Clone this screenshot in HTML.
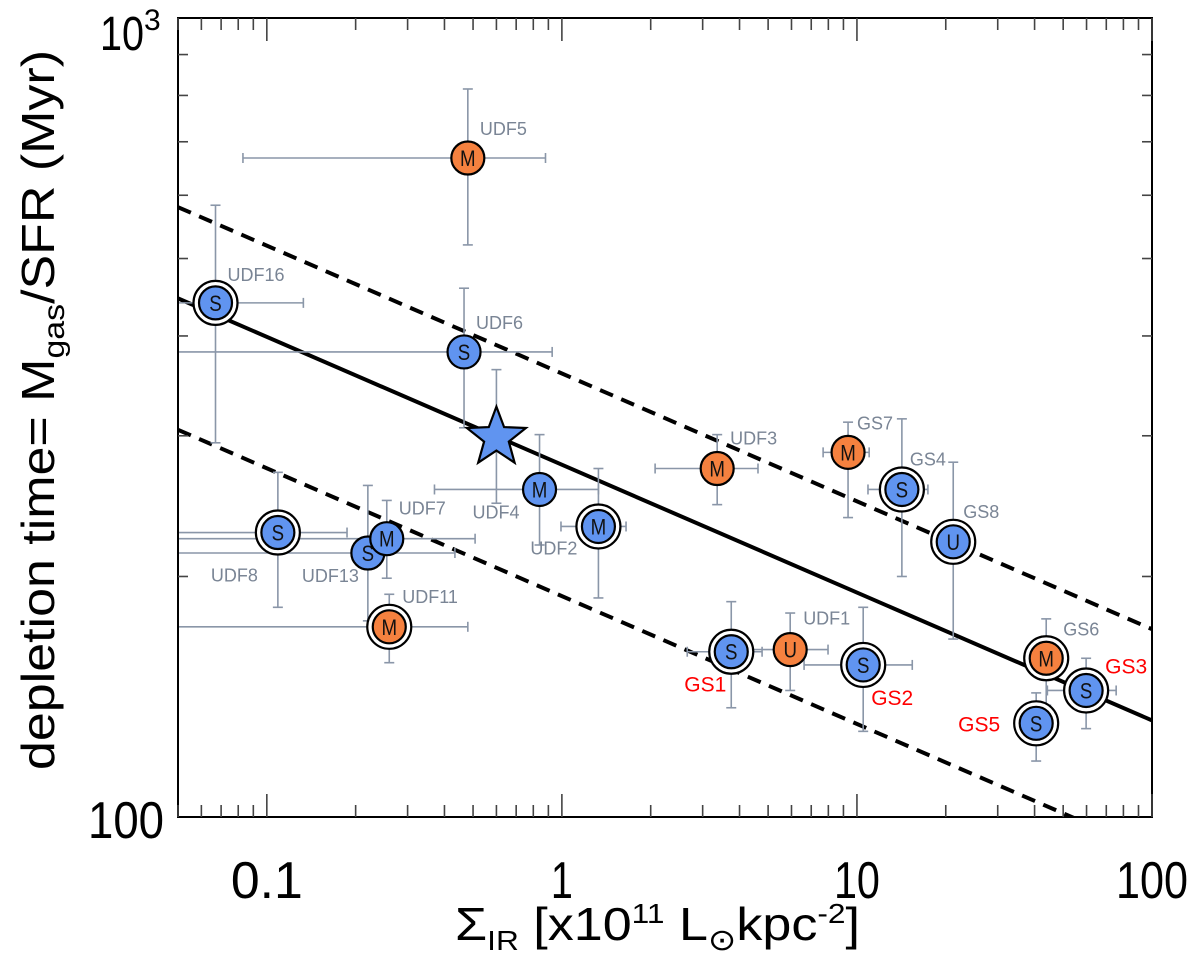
<!DOCTYPE html>
<html><head><meta charset="utf-8"><style>
html,body{margin:0;padding:0;background:#fff;}
svg{display:block;font-family:"Liberation Sans",Arial,sans-serif;}
</style></head><body>
<svg id="chart" width="1200" height="955" viewBox="0 0 1200 955" xmlns="http://www.w3.org/2000/svg">
<g id="grid"></g>
<g id="fits"></g>
<g id="errs"></g>
<g id="marks"></g>
<g id="labels"></g>
<g id="axes"></g>
</svg>
<script>
// ---- data ----
const names = ["UDF5","UDF16","UDF6","UDF4","UDF2","UDF3","UDF8","UDF13","UDF7","UDF11","GS7","GS4","GS8","GS1","UDF1","GS2","GS6","GS3","GS5"];
const sigmaIR = [0.48,0.067,0.466,0.84,1.33,3.36,0.109,0.220,0.255,0.26,9.33,14.2,21.2,3.75,5.94,10.5,43.8,59.8,40.5];
const sigmaLo = [0.083,0.03,0.03,0.37,0.993,2.07,0.03,0.03,0.03,0.03,7.68,10.9,21.2,2.66,3.93,6.62,43.8,44.2,40.5];
const sigmaHi = [0.88,0.133,0.927,1.33,1.65,4.62,0.187,0.434,0.508,0.48,11.0,17.4,21.2,4.77,7.98,15.4,43.8,75.6,40.5];
const tdep = [668,440,382,257,231,273,227,214,223,173,286,257,221,161,162,155,158,144,131];
const tdepHi = [815,583,459,301,273,301,270,260,249,190,312,315,278,186,180,183,177,158,143];
const tdepLo = [520,294,307,219,188,246,183,176,199,156,237,200,167,137,144,128,138,129,117.5];
const morph = ["M","S","S","M","M","M","S","S","M","M","M","S","U","S","U","S","M","S","S"];
const group = ["o","b","b","b","b","o","b","b","b","o","o","b","b","b","o","b","o","b","b"];
const ringed = [0,1,0,0,1,0,1,0,0,1,0,1,1,1,0,1,1,1,1];
const redLabel = [0,0,0,0,0,0,0,0,0,0,0,0,0,1,0,1,0,1,1];
const starSigma = [0.60];
const starT = [301];
const starTHi = [363];
const starTLo = [247];
// fits: t = A * sigma^b
const fitSlope = [-0.16];
const fitNorm = [276, 359, 189];
const xTicks = [0.1,1,10,100];
const xTickLabels = ["0.1","1","10","100"];

// ---- layout ----
const L=178,R=1152,T=18,B=817;
const xmin=0.05,xmax=100,ymin=100,ymax=1000;
const xs=v=>L+(Math.log10(v)-Math.log10(xmin))/(Math.log10(xmax)-Math.log10(xmin))*(R-L);
const ys=v=>B-(Math.log10(v)-Math.log10(ymin))/(Math.log10(ymax)-Math.log10(ymin))*(B-T);
const NS="http://www.w3.org/2000/svg";
function mk(tag,attrs,parent){const e=document.createElementNS(NS,tag);for(const k in attrs)e.setAttribute(k,attrs[k]);parent.appendChild(e);return e;}
const gF=document.getElementById('fits'),gE=document.getElementById('errs'),gM=document.getElementById('marks'),gL=document.getElementById('labels'),gA=document.getElementById('axes');
const clamp=(v,a,b)=>Math.max(a,Math.min(b,v));

// label offsets (px), style only
const lblDx=[12,12,12,-67,-68,13,-67,-66,12,13,9,8,10,-47,13,8,17,19,-78];
const lblDy=[-23,-22,-23,29,28,-24,49,29,-24,-24,-23,-24,-24,40,-25,40,-23,-17,8];

// fits
const cp=document.createElementNS(NS,'clipPath');cp.setAttribute('id','clip');gF.appendChild(cp);
mk('rect',{x:L,y:T,width:R-L,height:B-T},cp);
fitNorm.forEach((A,i)=>{
  const x1=xmin,x2=xmax;
  const l=mk('line',{x1:xs(x1),y1:ys(A*Math.pow(x1,fitSlope[0])),x2:xs(x2),y2:ys(A*Math.pow(x2,fitSlope[0])),stroke:'#000','stroke-width':4,'clip-path':'url(#clip)'},gF);
  if(i>0)l.setAttribute('stroke-dasharray','14 9');
  
  
});

function errbar(x,lo,hi,y,ylo,yhi,name){
  const g=mk('g',{stroke:'#8a96a8','stroke-width':1.6,fill:'none'},gE);
  
  
  const cx=xs(x),cy=ys(y);
  const xl=clamp(xs(lo),L,R),xh=clamp(xs(hi),L,R);
  const yt=ys(yhi),yb=ys(ylo);
  mk('line',{x1:xl,y1:cy,x2:xh,y2:cy},g);
  if(xs(lo)>L)mk('line',{x1:xl,y1:cy-5,x2:xl,y2:cy+5},g);
  if(xs(hi)<R&&hi!==x)mk('line',{x1:xh,y1:cy-5,x2:xh,y2:cy+5},g);
  mk('line',{x1:cx,y1:yt,x2:cx,y2:yb},g);
  mk('line',{x1:cx-5,y1:yt,x2:cx+5,y2:yt},g);
  mk('line',{x1:cx-5,y1:yb,x2:cx+5,y2:yb},g);
}

names.forEach((n,i)=>{
  errbar(sigmaIR[i],sigmaLo[i],sigmaHi[i],tdep[i],tdepLo[i],tdepHi[i],n.toLowerCase());
});
errbar(starSigma[0],starSigma[0],starSigma[0],starT[0],starTLo[0],starTHi[0],'star');

names.forEach((n,i)=>{
  const cx=xs(sigmaIR[i]),cy=ys(tdep[i]);
  const g=mk('g',{},gM);
  
  
  if(ringed[i]){mk('circle',{cx:cx,cy:cy,r:22,fill:'#fff',stroke:'#000','stroke-width':2.2},g);}
  mk('circle',{cx:cx,cy:cy,r:16.5,fill:group[i]=='o'?'#f5813f':'#6094f0',stroke:'#000','stroke-width':2.2},g);
  const t=mk('text',{x:cx,y:cy+8,'text-anchor':'middle','font-size':22,fill:'#111',transform:`translate(${cx},0) scale(0.85,1) translate(${-cx},0)`},g);
  t.textContent=morph[i];
  const lb=mk('text',{x:cx+lblDx[i],y:cy+lblDy[i],'font-size':redLabel[i]?21:18,fill:redLabel[i]?'#f00':'#7a8595'},gL);
  
  
  lb.textContent=n;
});
// star
(function(){
  const cx=xs(starSigma[0]),cy=ys(starT[0]);let pts=[];
  for(let k=0;k<10;k++){const r=k%2?13:31;const a=-Math.PI/2+k*Math.PI/5;pts.push((cx+r*Math.cos(a)).toFixed(1)+','+(cy+r*Math.sin(a)+3).toFixed(1));}
  const s=mk('polygon',{points:pts.join(' '),fill:'#6094f0',stroke:'#000','stroke-width':2.2,'stroke-linejoin':'miter'},gM);
  
  
})();

// axes
const frame=mk('rect',{x:L,y:T,width:R-L,height:B-T,fill:'none',stroke:'#000','stroke-width':2},gA);


const tk=mk('g',{stroke:'#444','stroke-width':1.6},gA);


for(let e=-2;e<=2;e++)for(let m=1;m<10;m++){
  const v=m*Math.pow(10,e);if(v<xmin*0.999||v>xmax*1.001)continue;
  const x=xs(v),len=m==1?23:12;
  mk('line',{x1:x,y1:B,x2:x,y2:B-len},tk);mk('line',{x1:x,y1:T,x2:x,y2:T+len},tk);
}
for(let m=2;m<10;m++){const y=ys(m*100);mk('line',{x1:L,y1:y,x2:L+10,y2:y},tk);mk('line',{x1:R,y1:y,x2:R-10,y2:y},tk);}
xTicks.forEach((v,i)=>{
  const t=mk('text',{x:xs(v),y:898,'text-anchor':'middle','font-size':52,fill:'#000',textLength:xTickLabels[i].length==1?22:(xTickLabels[i].length==2?46:72),lengthAdjust:'spacingAndGlyphs'},gA);
  
  
  t.textContent=xTickLabels[i];
});
const yt1=mk('text',{x:88,y:838,'font-size':52,fill:'#000',textLength:76,lengthAdjust:'spacingAndGlyphs'},gA);


yt1.textContent='100';
const yt2=mk('text',{x:100,y:50,'font-size':48,fill:'#000'},gA);


yt2.innerHTML='<tspan textLength="44" lengthAdjust="spacingAndGlyphs">10</tspan><tspan dy="-20" font-size="30">3</tspan>';
const xt=mk('text',{x:455,y:940,'font-size':46,fill:'#000',textLength:405,lengthAdjust:'spacingAndGlyphs'},gA);


xt.innerHTML='Σ<tspan dy="10" font-size="28">IR</tspan><tspan dy="-10"> [x10</tspan><tspan dy="-17" font-size="28">11</tspan><tspan dy="17"> L</tspan><tspan dy="10" font-size="30">⊙</tspan><tspan dy="-10">kpc</tspan><tspan dy="-17" font-size="28">-2</tspan><tspan dy="17">]</tspan>';
const ytt=mk('text',{x:-360,y:0,'font-size':46,fill:'#000',textLength:720,lengthAdjust:'spacingAndGlyphs',transform:'translate(54,410) rotate(-90)'},gA);


ytt.innerHTML='depletion time= M<tspan dy="10" font-size="30">gas</tspan><tspan dy="-10">/SFR (Myr)</tspan>';
</script>
</body></html>
